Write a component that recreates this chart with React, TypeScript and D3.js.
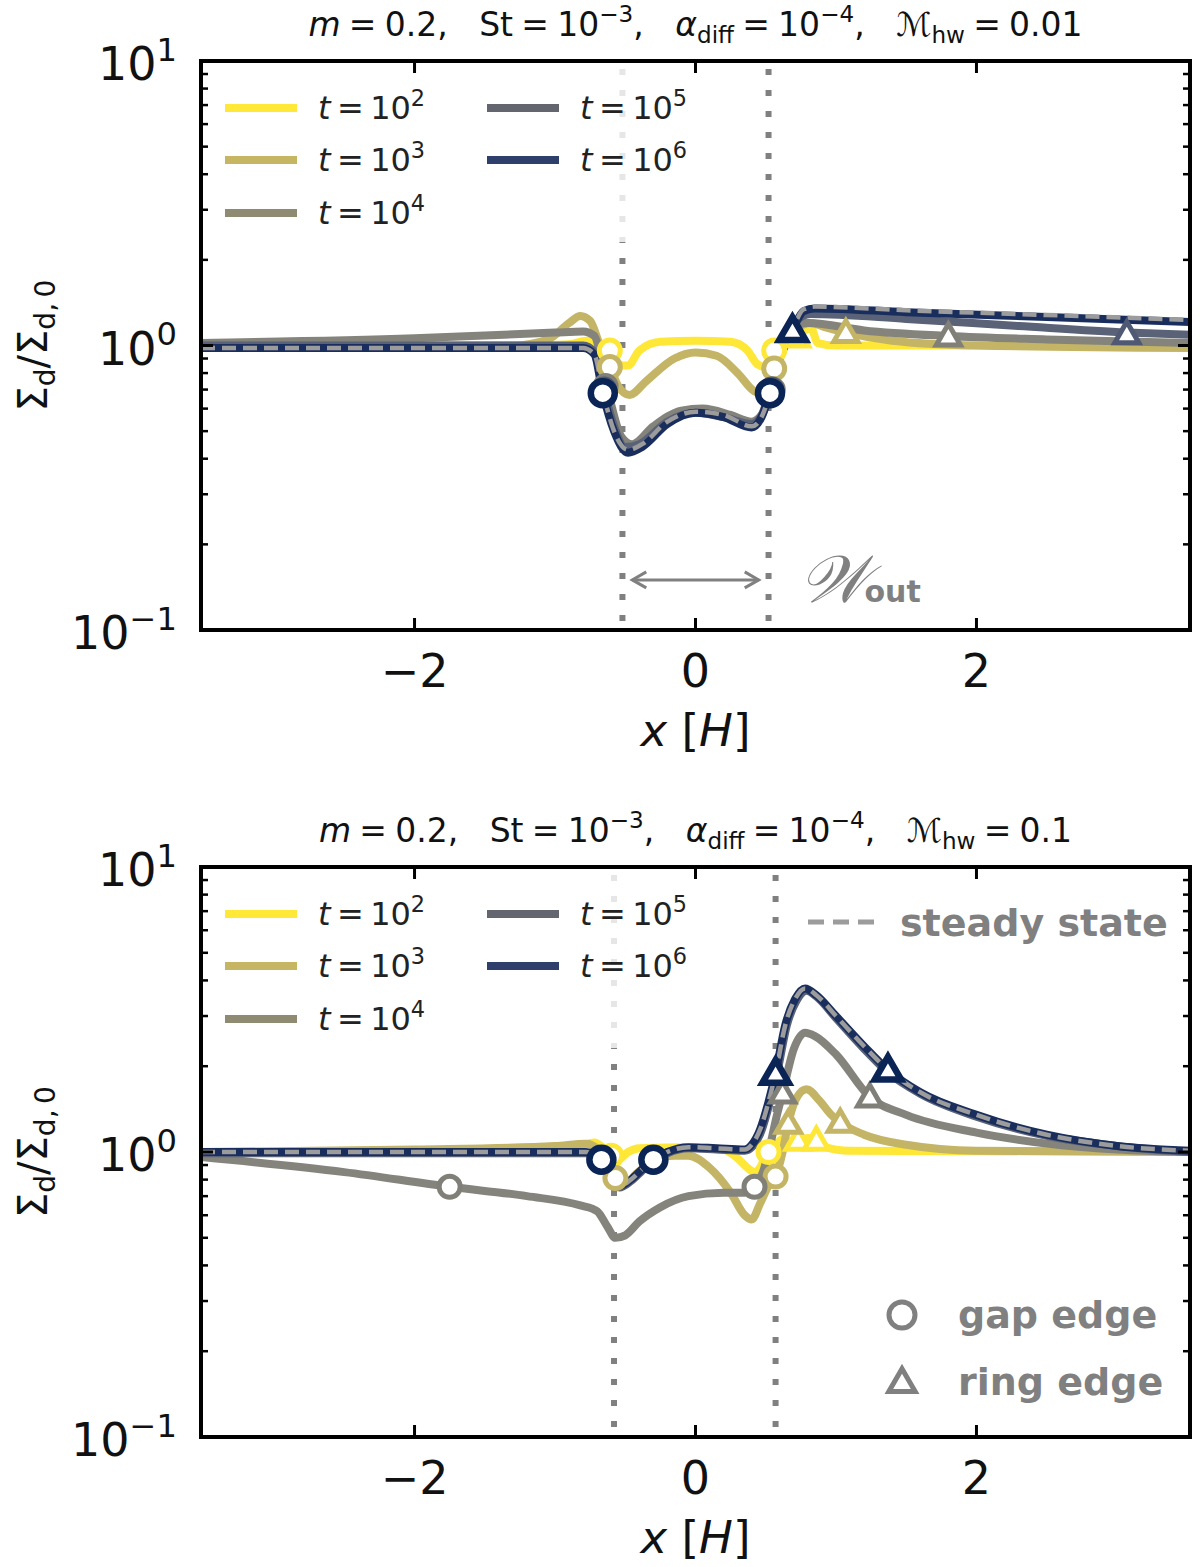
import React from "react";
import * as d3 from "d3";

type Pt = [number, number];

// ---- axes ----
const xDomain: [number, number] = [-3.52, 3.52];
const yDomain: [number, number] = [0.1, 10];
const xTicks = [-2, 0, 2];
const xTickLabels = ["\u22122", "0", "2"];
const yTicks = [0.1, 1, 10];
const yTickExps = ["\u22121", "0", "1"];

// ---- series (t = 10^2 ... 10^6) ----
const timeExps = ["2", "3", "4", "5", "6"];
const lineColors = ["#FEE737", "#C4B465", "#84837C", "#5A6277", "#1A2E5E"];
const legendColors = ["#FFE838", "#C6B563", "#8F8B73", "#63666F", "#2E3F6B"];
const markerColors = ["#FEE737", "#C4B465", "#818078", "#4F5974", "#0A2456"];

// panel 1: M_hw = 0.01
const topT2: Pt[] = [
  [-3.52, 1.0], [-1.2, 1.0], [-0.9, 1.01], [-0.78, 1.04], [-0.7, 1.03], [-0.63, 0.95],
  [-0.55, 0.85], [-0.48, 0.85], [-0.4, 0.96], [-0.25, 1.03], [0, 1.04], [0.25, 1.03],
  [0.37, 0.96], [0.44, 0.86], [0.5, 0.84], [0.55, 0.9], [0.6, 0.98], [0.68, 1.03],
  [0.75, 1.1], [0.82, 1.16], [0.87, 1.02], [1.0, 1.0], [3.52, 1.0],
];
const topT3: Pt[] = [
  [-3.52, 1.0], [-1.3, 1.0], [-1.05, 1.05], [-0.9, 1.2], [-0.82, 1.27], [-0.75, 1.22],
  [-0.68, 1.0], [-0.61, 0.84], [-0.55, 0.72], [-0.47, 0.67], [-0.35, 0.75], [-0.15, 0.9],
  [0, 0.945], [0.15, 0.92], [0.3, 0.8], [0.42, 0.69], [0.47, 0.68], [0.56, 0.83],
  [0.64, 1.05], [0.72, 1.15], [0.82, 1.2], [0.92, 1.16], [1.07, 1.11], [1.4, 1.04],
  [2.0, 1.0], [3.52, 0.98],
];
const topT4: Pt[] = [
  [-3.52, 1.02], [-2.0, 1.06], [-1.0, 1.11], [-0.8, 1.12], [-0.72, 1.08], [-0.66, 0.85],
  [-0.6, 0.62], [-0.53, 0.48], [-0.45, 0.45], [-0.3, 0.52], [-0.1, 0.59], [0.05, 0.6],
  [0.25, 0.57], [0.4, 0.54], [0.47, 0.57], [0.53, 0.7], [0.6, 0.95], [0.68, 1.15],
  [0.8, 1.2], [1.2, 1.13], [1.8, 1.08], [2.5, 1.05], [3.52, 1.02],
];
const topT5: Pt[] = [
  [-3.52, 1.0], [-0.8, 1.0], [-0.72, 0.95], [-0.66, 0.72], [-0.58, 0.52], [-0.5, 0.44],
  [-0.4, 0.45], [-0.2, 0.54], [0, 0.58], [0.2, 0.56], [0.4, 0.53], [0.48, 0.58],
  [0.54, 0.72], [0.62, 1.0], [0.7, 1.2], [0.82, 1.29], [1.5, 1.24], [2.3, 1.17],
  [3.07, 1.11], [3.52, 1.09],
];
const topT6: Pt[] = [
  [-3.52, 0.98], [-0.8, 0.98], [-0.72, 0.93], [-0.66, 0.68], [-0.58, 0.5], [-0.48, 0.42],
  [-0.38, 0.44], [-0.2, 0.53], [0, 0.58], [0.2, 0.56], [0.4, 0.515], [0.47, 0.56],
  [0.53, 0.68], [0.6, 0.9], [0.69, 1.13], [0.77, 1.32], [0.85, 1.35], [1.5, 1.31],
  [2.5, 1.26], [3.52, 1.21],
];
const topSteady: Pt[] = [
  [-3.52, 0.98], [-0.8, 0.98], [-0.72, 0.93], [-0.66, 0.69], [-0.58, 0.5], [-0.48, 0.43],
  [-0.38, 0.45], [-0.2, 0.54], [0, 0.585], [0.2, 0.57], [0.4, 0.52], [0.47, 0.56],
  [0.53, 0.68], [0.6, 0.9], [0.69, 1.14], [0.77, 1.34], [0.85, 1.37], [1.5, 1.33],
  [2.5, 1.28], [3.52, 1.23],
];
const topCircles: Pt[][] = [
  [[-0.61, 0.96], [0.56, 0.96]],
  [[-0.61, 0.84], [0.56, 0.83]],
  [[-0.64, 0.72], [0.55, 0.7]],
  [[-0.65, 0.7], [0.54, 0.7]],
  [[-0.66, 0.68], [0.53, 0.68]],
];
const topTriangles: Pt[][] = [
  [[0.72, 1.07]],
  [[1.07, 1.11]],
  [[1.8, 1.08]],
  [[3.07, 1.1]],
  [[0.69, 1.13]],
];
const topGapEdges = [-0.52, 0.52];

// panel 2: M_hw = 0.1
const botT2: Pt[] = [
  [-3.52, 1.0], [-1.5, 1.0], [-0.85, 1.04], [-0.72, 1.08], [-0.65, 1.03], [-0.55, 0.94],
  [-0.48, 1.0], [-0.4, 1.03], [0, 1.04], [0.2, 1.02], [0.3, 0.95], [0.37, 0.88],
  [0.42, 0.85], [0.47, 0.9], [0.51, 1.02], [0.57, 1.06], [0.62, 1.11], [0.7, 1.08],
  [0.8, 1.12], [0.9, 1.05], [1.1, 1.01], [3.52, 1.0],
];
const botT3: Pt[] = [
  [-3.52, 1.0], [-2.0, 1.02], [-1.0, 1.05], [-0.78, 1.07], [-0.7, 1.03], [-0.62, 0.88],
  [-0.57, 0.81], [-0.5, 0.77], [-0.42, 0.84], [-0.3, 0.93], [-0.15, 0.97], [-0.05, 0.97],
  [0.1, 0.88], [0.25, 0.72], [0.35, 0.6], [0.4, 0.58], [0.46, 0.66], [0.52, 0.76],
  [0.57, 0.82], [0.62, 1.0], [0.66, 1.26], [0.72, 1.55], [0.79, 1.66], [0.88, 1.52],
  [0.96, 1.36], [1.03, 1.27], [1.2, 1.15], [1.5, 1.06], [2.0, 1.01], [3.52, 1.0],
];
const botT4: Pt[] = [
  [-3.52, 0.96], [-2.5, 0.85], [-1.75, 0.755], [-1.2, 0.7], [-0.82, 0.65], [-0.7, 0.62],
  [-0.63, 0.55], [-0.57, 0.5], [-0.5, 0.51], [-0.4, 0.57], [-0.25, 0.64], [-0.05, 0.7],
  [0.2, 0.72], [0.35, 0.72], [0.42, 0.755], [0.48, 0.85], [0.53, 1.05], [0.58, 1.35],
  [0.62, 1.61], [0.7, 2.3], [0.78, 2.62], [0.85, 2.55], [1.0, 2.2], [1.24, 1.56],
  [1.5, 1.35], [2.0, 1.17], [2.5, 1.07], [3.0, 1.02], [3.52, 1.0],
];
const botT5: Pt[] = [
  [-3.52, 0.99], [-0.78, 0.99], [-0.72, 0.97], [-0.67, 0.93], [-0.6, 0.81], [-0.54, 0.75],
  [-0.46, 0.79], [-0.38, 0.86], [-0.3, 0.93], [-0.2, 0.99], [-0.05, 1.03], [0.15, 1.02],
  [0.35, 1.01], [0.41, 1.05], [0.47, 1.19], [0.53, 1.5], [0.58, 1.88], [0.65, 2.78],
  [0.72, 3.4], [0.79, 3.68], [0.87, 3.48], [1.0, 2.95], [1.2, 2.3], [1.37, 1.9],
  [1.6, 1.6], [2.0, 1.33], [2.5, 1.14], [3.0, 1.05], [3.52, 1.0],
];
const botT6: Pt[] = [
  [-3.52, 1.0], [-0.78, 1.0], [-0.72, 0.98], [-0.67, 0.94], [-0.6, 0.82], [-0.54, 0.76],
  [-0.46, 0.8], [-0.38, 0.87], [-0.3, 0.94], [-0.2, 1.0], [-0.05, 1.04], [0.15, 1.03],
  [0.35, 1.02], [0.4, 1.06], [0.46, 1.2], [0.52, 1.5], [0.57, 1.89], [0.64, 2.8],
  [0.71, 3.45], [0.78, 3.75], [0.86, 3.55], [1.0, 3.0], [1.2, 2.35], [1.37, 1.94],
  [1.6, 1.62], [2.0, 1.35], [2.5, 1.15], [3.0, 1.05], [3.52, 1.01],
];
const botSteady: Pt[] = [
  [-3.52, 1.0], [-0.78, 1.0], [-0.72, 0.98], [-0.67, 0.94], [-0.6, 0.82], [-0.54, 0.76],
  [-0.46, 0.8], [-0.38, 0.87], [-0.3, 0.94], [-0.2, 1.0], [-0.05, 1.04], [0.15, 1.03],
  [0.35, 1.02], [0.4, 1.06], [0.46, 1.2], [0.52, 1.5], [0.57, 1.89], [0.64, 2.8],
  [0.71, 3.45], [0.78, 3.75], [0.86, 3.55], [1.0, 3.0], [1.2, 2.35], [1.37, 1.94],
  [1.6, 1.62], [2.0, 1.35], [2.5, 1.15], [3.0, 1.05], [3.52, 1.01],
];
const botCircles: Pt[][] = [
  [[-0.6, 0.97], [0.52, 1.0]],
  [[-0.57, 0.81], [0.57, 0.82]],
  [[-1.75, 0.755], [0.42, 0.755]],
  [],
  [[-0.67, 0.94], [-0.3, 0.94]],
];
const botTriangles: Pt[][] = [
  [[0.73, 1.1], [0.86, 1.1]],
  [[0.66, 1.26], [1.03, 1.27]],
  [[0.62, 1.61], [1.24, 1.56]],
  [],
  [[0.57, 1.89], [1.37, 1.94]],
];
const botGapEdges = [-0.58, 0.57];

// ---- text helpers ----
type Seg = { t: string; sup?: boolean; sub?: boolean; it?: boolean };

function MathText({ segs, fs, ...rest }: { segs: Seg[]; fs: number; [k: string]: any }) {
  let shift = 0;
  return (
    <text fontSize={fs} style={{ whiteSpace: "pre" }} {...rest}>
      {segs.map((s, i) => {
        const target = s.sup ? -0.42 * fs : s.sub ? 0.2 * fs : 0;
        const dy = target - shift;
        shift = target;
        return (
          <tspan
            key={i}
            dy={dy}
            fontSize={s.sup || s.sub ? fs * 0.7 : undefined}
            fontStyle={s.it ? "italic" : undefined}
          >
            {s.t}
          </tspan>
        );
      })}
    </text>
  );
}

const th = "\u2009";
const eq = "\u2005=\u2005";
function titleSegs(mhw: string): Seg[] {
  return [
    { t: "m", it: true },
    { t: `${eq}0.2,   St${eq}10` },
    { t: "\u22123", sup: true },
    { t: ",   " },
    { t: "\u03B1", it: true },
    { t: "diff", sub: true },
    { t: `${eq}10` },
    { t: "\u22124", sup: true },
    { t: ",   \u2133" },
    { t: "hw", sub: true },
    { t: `${eq}${mhw}` },
  ];
}

type PanelCfg = {
  top: number;
  bottom: number;
  mhw: string;
  series: Pt[][];
  steady: Pt[];
  circles: Pt[][];
  triangles: Pt[][];
  gapEdges: number[];
  annotate: boolean;
  extraLegend: boolean;
};

const panels: PanelCfg[] = [
  {
    top: 61, bottom: 630, mhw: "0.01",
    series: [topT2, topT3, topT4, topT5, topT6], steady: topSteady,
    circles: topCircles, triangles: topTriangles, gapEdges: topGapEdges,
    annotate: true, extraLegend: false,
  },
  {
    top: 867, bottom: 1437, mhw: "0.1",
    series: [botT2, botT3, botT4, botT5, botT6], steady: botSteady,
    circles: botCircles, triangles: botTriangles, gapEdges: botGapEdges,
    annotate: false, extraLegend: true,
  },
];

const LEFT = 201;
const RIGHT = 1190;
const GREY = "#808080";

function Panel({ cfg, idx }: { cfg: PanelCfg; idx: number }) {
  const x = d3.scaleLinear().domain(xDomain).range([LEFT, RIGHT]);
  const y = d3.scaleLog().domain(yDomain).range([cfg.bottom, cfg.top]);
  const line = d3
    .line<Pt>()
    .x((d) => x(d[0]))
    .y((d) => y(d[1]))
    .curve(d3.curveMonotoneX);
  const tri = d3.symbol().type(d3.symbolTriangle);
  const clipId = `clip${idx}`;
  const yAll = y.ticks();
  const isMajor = (v: number) => Math.abs(Math.log10(v) - Math.round(Math.log10(v))) < 1e-6;
  const midX = (LEFT + RIGHT) / 2;
  const legendRows = [cfg.top + 47, cfg.top + 99, cfg.top + 152];
  const legendPos = [0, 1, 2, 0, 1].map((r, i) => ({
    y: legendRows[r],
    x0: i < 3 ? 225 : 487,
  }));

  return (
    <g>
      <defs>
        <clipPath id={clipId}>
          <rect x={LEFT} y={cfg.top} width={RIGHT - LEFT} height={cfg.bottom - cfg.top} />
        </clipPath>
      </defs>

      {/* title */}
      <MathText
        segs={titleSegs(cfg.mhw)}
        fs={33}
        x={midX}
        y={cfg.top - 25}
        textAnchor="middle"
        fill="#111"
      />

      {/* gap edge lines */}
      {cfg.gapEdges.map((g, i) => (
        <line
          key={i}
          x1={x(g)}
          x2={x(g)}
          y1={cfg.top + 8}
          y2={cfg.bottom}
          stroke={GREY}
          strokeWidth={6}
          strokeDasharray="6 15"
        />
      ))}

      <g clipPath={`url(#${clipId})`}>
        {cfg.series.map((s, i) => (
          <path
            key={i}
            d={line(s) ?? ""}
            fill="none"
            stroke={lineColors[i]}
            strokeWidth={8}
            strokeLinejoin="round"
            strokeLinecap="round"
          />
        ))}
        <path
          d={line(cfg.steady) ?? ""}
          fill="none"
          stroke="#9C9C9C"
          strokeWidth={4.5}
          strokeDasharray="14 7"
        />
        {cfg.circles.map((pts, i) =>
          pts.map((p, j) => (
            <circle
              key={`c${i}-${j}`}
              cx={x(p[0])}
              cy={y(p[1])}
              r={i === 4 ? 12 : 10.5}
              fill="#fff"
              stroke={markerColors[i]}
              strokeWidth={i === 4 ? 6.5 : 5}
            />
          ))
        )}
        {cfg.triangles.map((pts, i) =>
          pts.map((p, j) => (
            <path
              key={`t${i}-${j}`}
              d={tri.size(i === 4 ? 300 : 250)() ?? ""}
              transform={`translate(${x(p[0])},${y(p[1]) + 2})`}
              fill="#fff"
              stroke={markerColors[i]}
              strokeWidth={i === 4 ? 6.5 : 5}
              strokeLinejoin="miter"
            />
          ))
        )}
      </g>

      {/* W_out annotation */}
      {cfg.annotate && (
        <g stroke={GREY} strokeWidth={3} fill="none">
          <line x1={x(-0.45)} x2={x(0.45)} y1={y(0.15)} y2={y(0.15)} />
          <path
            d={`M${x(-0.45) + 14},${y(0.15) - 8} L${x(-0.45)},${y(0.15)} L${x(-0.45) + 14},${y(0.15) + 8}`}
          />
          <path
            d={`M${x(0.45) - 14},${y(0.15) - 8} L${x(0.45)},${y(0.15)} L${x(0.45) - 14},${y(0.15) + 8}`}
          />
        </g>
      )}
      {cfg.annotate && (
        <text x={x(0.74)} y={y(0.15) + 22} fill={GREY}>
          <tspan fontSize={66} fontStyle="italic" fontFamily="'DejaVu Serif', serif">
            {"\uD835\uDCB2"}
          </tspan>
          <tspan fontSize={30} fontWeight="bold" dx={-4}>
            out
          </tspan>
        </text>
      )}

      {/* legend */}
      <rect x={206} y={cfg.top + 5} width={492} height={176} fill="#fff" opacity={0.8} />
      {legendPos.map((p, i) => (
        <g key={i}>
          <line x1={p.x0} x2={p.x0 + 72} y1={p.y} y2={p.y} stroke={legendColors[i]} strokeWidth={8} />
          <MathText
            segs={[{ t: "t", it: true }, { t: `${th}=${th}10` }, { t: timeExps[i], sup: true }]}
            fs={32}
            x={p.x0 + 93}
            y={p.y + 11}
            fill="#222"
          />
        </g>
      ))}

      {cfg.extraLegend && (
        <g fill={GREY} fontWeight="bold" fontSize={38}>
          <line x1={808} x2={878} y1={cfg.top + 55} y2={cfg.top + 55} stroke="#9C9C9C" strokeWidth={5} strokeDasharray="16 9" />
          <text x={900} y={cfg.top + 69}>steady state</text>
          <circle cx={902} cy={cfg.bottom - 122} r={13} fill="#fff" stroke={GREY} strokeWidth={5} />
          <text x={958} y={cfg.bottom - 109}>gap edge</text>
          <path
            d={tri.size(300)() ?? ""}
            transform={`translate(902,${cfg.bottom - 53})`}
            fill="#fff"
            stroke={GREY}
            strokeWidth={5}
          />
          <text x={958} y={cfg.bottom - 42}>ring edge</text>
        </g>
      )}

      {/* ticks */}
      {xTicks.map((t, i) => (
        <g key={i}>
          <line x1={x(t)} x2={x(t)} y1={cfg.bottom} y2={cfg.bottom - 12} stroke="#000" strokeWidth={3} />
          <line x1={x(t)} x2={x(t)} y1={cfg.top} y2={cfg.top + 12} stroke="#000" strokeWidth={3} />
          <text x={x(t)} y={cfg.bottom + 57} fontSize={46} textAnchor="middle" fill="#111">
            {xTickLabels[i]}
          </text>
        </g>
      ))}
      {yAll.map((v, i) => {
        const len = isMajor(v) ? 12 : 7;
        const w = isMajor(v) ? 3 : 2.5;
        return (
          <g key={i}>
            <line x1={LEFT} x2={LEFT + len} y1={y(v)} y2={y(v)} stroke="#000" strokeWidth={w} />
            <line x1={RIGHT} x2={RIGHT - len} y1={y(v)} y2={y(v)} stroke="#000" strokeWidth={w} />
          </g>
        );
      })}
      {yTicks.map((v, i) => (
        <MathText
          key={i}
          segs={[{ t: "10" }, { t: yTickExps[i], sup: true }]}
          fs={46}
          x={177}
          y={y(v) + 19}
          textAnchor="end"
          fill="#111"
        />
      ))}

      {/* frame */}
      <rect x={LEFT} y={cfg.top} width={RIGHT - LEFT} height={cfg.bottom - cfg.top} fill="none" stroke="#000" strokeWidth={4} />

      {/* axis labels */}
      <MathText
        segs={[{ t: "x", it: true }, { t: " [" }, { t: "H", it: true }, { t: "]" }]}
        fs={45}
        x={midX}
        y={cfg.bottom + 116}
        textAnchor="middle"
        fill="#111"
      />
      <g transform={`translate(47,${(cfg.top + cfg.bottom) / 2}) rotate(-90)`}>
        <MathText
          segs={[{ t: "\u03A3" }, { t: "d", sub: true }, { t: "/\u03A3" }, { t: "d,\u20090", sub: true }]}
          fs={40}
          x={0}
          y={0}
          textAnchor="middle"
          fill="#111"
        />
      </g>
    </g>
  );
}

export default function App() {
  return (
    <svg
      width={1200}
      height={1567}
      viewBox="0 0 1200 1567"
      style={{ position: "absolute", left: 0, top: 0, background: "#fff" }}
      fontFamily="'DejaVu Sans', sans-serif"
    >
      <rect width={1200} height={1567} fill="#fff" />
      {panels.map((p, i) => (
        <Panel key={i} cfg={p} idx={i} />
      ))}
    </svg>
  );
}
